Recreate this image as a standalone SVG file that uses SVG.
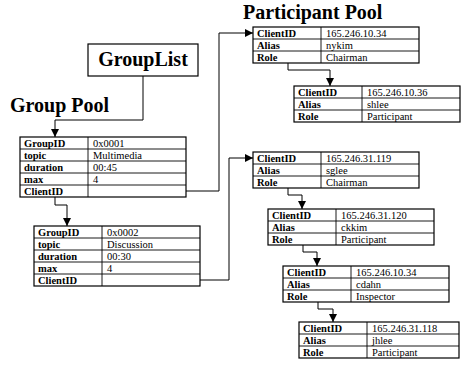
<svg xmlns="http://www.w3.org/2000/svg" width="466" height="376" viewBox="0 0 466 376">
<style>
.box{fill:#fff;stroke:#000;stroke-width:1.2}
.ln{stroke:#000;stroke-width:0.9;fill:none}
.t{font-family:"Liberation Serif","Times New Roman",serif;font-weight:bold;font-size:20px;fill:#000}
.k{font-family:"Liberation Serif","Times New Roman",serif;font-weight:bold;font-size:10.5px;fill:#000}
.v{font-family:"Liberation Serif","Times New Roman",serif;font-size:10.5px;fill:#000}
.c{stroke:#000;stroke-width:1;fill:none;marker-end:url(#ah)}
</style>
<defs>
<marker id="ah" viewBox="0 0 10 10" refX="10" refY="5" markerWidth="8" markerHeight="9" markerUnits="userSpaceOnUse" orient="auto"><path d="M0,0 L10,5 L0,10 z" fill="#000"/></marker>
</defs>
<text class="t" x="10" y="112">Group Pool</text>
<text class="t" x="243" y="19">Participant Pool</text>
<g id="grouplist"><rect class="box" x="88" y="44" width="110" height="32"/><text class="t" x="143" y="66" text-anchor="middle">GroupList</text></g>
<g id="group1" transform="translate(20,137)">
<rect class="box" width="166" height="60"/>
<path class="ln" d="M0,12H166M0,24H166M0,36H166M0,48H166M68,0V60"/>
<text class="k" x="4" y="9.5">GroupID</text><text class="v" x="73" y="9.5">0x0001</text>
<text class="k" x="4" y="21.5">topic</text><text class="v" x="73" y="21.5">Multimedia</text>
<text class="k" x="4" y="33.5">duration</text><text class="v" x="73" y="33.5">00:45</text>
<text class="k" x="4" y="45.5">max</text><text class="v" x="73" y="45.5">4</text>
<text class="k" x="4" y="57.5">ClientID</text>
</g>
<g id="group2" transform="translate(34,226)">
<rect class="box" width="166" height="60"/>
<path class="ln" d="M0,12H166M0,24H166M0,36H166M0,48H166M68,0V60"/>
<text class="k" x="4" y="9.5">GroupID</text><text class="v" x="73" y="9.5">0x0002</text>
<text class="k" x="4" y="21.5">topic</text><text class="v" x="73" y="21.5">Discussion</text>
<text class="k" x="4" y="33.5">duration</text><text class="v" x="73" y="33.5">00:30</text>
<text class="k" x="4" y="45.5">max</text><text class="v" x="73" y="45.5">4</text>
<text class="k" x="4" y="57.5">ClientID</text>
</g>
<g id="p1" transform="translate(253,27)">
<rect class="box" width="166" height="36"/>
<path class="ln" d="M0,12H166M0,24H166M68,0V36"/>
<text class="k" x="4" y="9.5">ClientID</text><text class="v" x="73" y="9.5">165.246.10.34</text>
<text class="k" x="4" y="21.5">Alias</text><text class="v" x="73" y="21.5">nykim</text>
<text class="k" x="4" y="33.5">Role</text><text class="v" x="73" y="33.5">Chairman</text>
</g>
<g id="p2" transform="translate(294,86)">
<rect class="box" width="166" height="36"/>
<path class="ln" d="M0,12H166M0,24H166M68,0V36"/>
<text class="k" x="4" y="9.5">ClientID</text><text class="v" x="73" y="9.5">165.246.10.36</text>
<text class="k" x="4" y="21.5">Alias</text><text class="v" x="73" y="21.5">shlee</text>
<text class="k" x="4" y="33.5">Role</text><text class="v" x="73" y="33.5">Participant</text>
</g>
<g id="p3" transform="translate(253,152)">
<rect class="box" width="166" height="36"/>
<path class="ln" d="M0,12H166M0,24H166M68,0V36"/>
<text class="k" x="4" y="9.5">ClientID</text><text class="v" x="73" y="9.5">165.246.31.119</text>
<text class="k" x="4" y="21.5">Alias</text><text class="v" x="73" y="21.5">sglee</text>
<text class="k" x="4" y="33.5">Role</text><text class="v" x="73" y="33.5">Chairman</text>
</g>
<g id="p4" transform="translate(268,209)">
<rect class="box" width="166" height="36"/>
<path class="ln" d="M0,12H166M0,24H166M68,0V36"/>
<text class="k" x="4" y="9.5">ClientID</text><text class="v" x="73" y="9.5">165.246.31.120</text>
<text class="k" x="4" y="21.5">Alias</text><text class="v" x="73" y="21.5">ckkim</text>
<text class="k" x="4" y="33.5">Role</text><text class="v" x="73" y="33.5">Participant</text>
</g>
<g id="p5" transform="translate(283,266)">
<rect class="box" width="166" height="36"/>
<path class="ln" d="M0,12H166M0,24H166M68,0V36"/>
<text class="k" x="4" y="9.5">ClientID</text><text class="v" x="73" y="9.5">165.246.10.34</text>
<text class="k" x="4" y="21.5">Alias</text><text class="v" x="73" y="21.5">cdahn</text>
<text class="k" x="4" y="33.5">Role</text><text class="v" x="73" y="33.5">Inspector</text>
</g>
<g id="p6" transform="translate(299,322)">
<rect class="box" width="160" height="36"/>
<path class="ln" d="M0,12H160M0,24H160M68,0V36"/>
<text class="k" x="4" y="9.5">ClientID</text><text class="v" x="73" y="9.5">165.246.31.118</text>
<text class="k" x="4" y="21.5">Alias</text><text class="v" x="73" y="21.5">jhlee</text>
<text class="k" x="4" y="33.5">Role</text><text class="v" x="73" y="33.5">Participant</text>
</g>
<g id="connectors">
<path class="c" d="M143,76V120H55V137"/>
<path class="c" d="M55,197V205H67V226"/>
<path class="c" d="M186,191H219V33H253"/>
<path class="c" d="M200,280H229V158H253"/>
<path class="c" d="M288,63V70H330V86"/>
<path class="c" d="M288,188V195H302V209"/>
<path class="c" d="M303,245V252H317V266"/>
<path class="c" d="M318,302V309H333V322"/>
</g>
</svg>
